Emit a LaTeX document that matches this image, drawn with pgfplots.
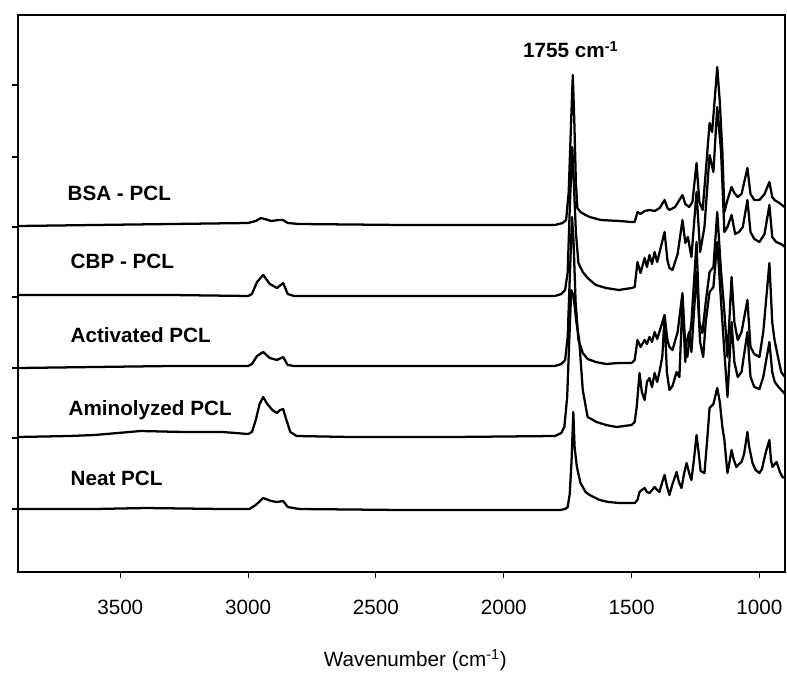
\documentclass[border=0pt]{standalone}
\usepackage{fontspec}
\setmainfont{Liberation Sans}
\usepackage{pgfplots}
\pgfplotsset{compat=1.18}
\tikzset{spec/.style={black, line width=1.7pt, line join=round, mark=none}}

\begin{document}
\begin{tikzpicture}
% frame of the whole picture (axis box sits at the origin)
\path[use as bounding box] (-13.5pt,-88.5pt) rectangle (576.75pt,429pt);
\begin{axis}[
    scale only axis,
    width=575.25pt, height=417.75pt,
    x dir=reverse,
    xmin=900, xmax=3900, ymin=0, ymax=557,
    xtick={1000,1500,2000,2500,3000,3500},
    ytick={63,134,204,275,345,415,487},
    yticklabels={},
    xtick pos=bottom, ytick pos=left,
    tick align=outside,
    major tick length=4.5pt,
    axis line style={line width=1pt},
    tick style={line width=0.8pt, black},
    /pgf/number format/assume math mode=true,
    /pgf/number format/set thousands separator={},
    tick label style={font=\fontsize{15.5}{18}\selectfont},
    xticklabel style={yshift=-13pt},
    xlabel={Wavenumber (cm\textsuperscript{-1})},
    xlabel style={font=\fontsize{15.5}{18}\selectfont, at={(axis description cs:0.518,0)}, anchor=center, yshift=-66pt},
]
% Neat PCL
\addplot[spec] coordinates {
(3900,63) (3600,63) (3400,64) (3100,63) (2995,63) (2970,67) (2941,74) (2910,71) (2887,70) (2863,71) (2845,65) (2800,63)
(2400,62) (2000,62) (1780,62) (1760,63) (1750,65) (1742,78) (1735,110) (1728,160) (1723,125) (1714,105) (1700,89)
(1680,80) (1664,77) (1625,72) (1590,70) (1547,69) (1500,69) (1488,69) (1477,72) (1469,80) (1460,82) (1449,84)
(1440,80) (1430,79) (1420,82) (1410,85) (1400,82) (1391,80) (1380,90) (1371,97) (1362,86) (1352,77) (1340,88)
(1324,100) (1315,90) (1305,84) (1295,98) (1285,109) (1275,99) (1266,92) (1255,115) (1246,137) (1238,120) (1230,101)
(1215,99) (1205,130) (1195,164) (1180,168) (1165,184) (1155,170) (1145,145) (1137,132) (1130,112) (1125,99)
(1117,110) (1109,122) (1100,112) (1090,105) (1080,108) (1070,110) (1060,118) (1047,140) (1040,125) (1027,109)
(1015,102) (1000,99) (990,103) (975,120) (961,132) (955,112) (949,105) (940,108) (933,110) (920,100) (910,95) (900,94)
};
% Aminolyzed PCL
\addplot[spec] coordinates {
(3900,135) (3700,136) (3600,137) (3420,141) (3250,140) (3100,140) (3000,138) (2985,140) (2970,152) (2955,168)
(2941,175) (2925,168) (2905,162) (2887,159) (2875,162) (2863,163) (2850,152) (2835,140) (2810,136) (2600,135)
(2200,135) (1800,136) (1775,139) (1763,145) (1752,175) (1744,230) (1736,282) (1727,276) (1716,250) (1705,232)
(1691,182) (1672,155) (1637,150) (1600,147) (1559,145) (1500,147) (1488,150) (1480,165) (1469,199) (1460,180)
(1449,172) (1440,190) (1430,194) (1420,185) (1410,199) (1400,190) (1391,200) (1380,215) (1371,255) (1362,200)
(1352,182) (1340,186) (1324,200) (1313,195) (1301,272) (1290,210) (1285,230) (1275,240) (1266,220) (1246,300)
(1232,230) (1220,215) (1210,250) (1195,280) (1180,285) (1165,330) (1150,270) (1137,220) (1125,175) (1109,250)
(1098,210) (1085,195) (1070,200) (1047,240) (1035,195) (1020,185) (1000,183) (985,195) (961,230) (950,200)
(940,190) (925,185) (900,178)
};
% Activated PCL
\addplot[spec] coordinates {
(3900,204) (3600,205) (3300,206) (3000,206) (2985,208) (2965,216) (2941,220) (2915,214) (2887,212) (2863,215)
(2845,207) (2820,206) (2400,206) (1800,206) (1775,208) (1760,212) (1750,235) (1741,300) (1733,355) (1727,330)
(1719,270) (1708,232) (1691,219) (1672,213) (1640,210) (1600,208) (1550,209) (1500,209) (1488,212) (1477,232)
(1465,225) (1449,232) (1440,228) (1430,235) (1420,230) (1410,240) (1400,233) (1371,257) (1360,232) (1352,225)
(1340,222) (1320,240) (1301,279) (1290,225) (1282,215) (1266,250) (1246,330) (1235,250) (1223,239) (1210,270)
(1195,300) (1180,305) (1165,360) (1150,300) (1137,260) (1125,215) (1109,295) (1098,250) (1085,232) (1070,240)
(1047,272) (1035,225) (1020,218) (1000,215) (985,240) (961,309) (950,250) (941,232) (925,212) (915,200) (900,195)
};
% CBP - PCL
\addplot[spec] coordinates {
(3900,277) (3600,277) (3300,277) (3000,276) (2985,278) (2965,290) (2941,297) (2915,288) (2887,284) (2863,289)
(2845,278) (2820,276) (2400,276) (1800,276) (1775,278) (1760,282) (1750,300) (1741,370) (1732,425) (1726,390)
(1718,340) (1708,309) (1691,300) (1672,294) (1640,287) (1600,284) (1550,282) (1500,284) (1488,285) (1477,310)
(1465,299) (1449,314) (1440,305) (1430,317) (1420,308) (1410,320) (1400,310) (1371,340) (1360,312) (1352,304)
(1340,302) (1320,318) (1301,352) (1290,329) (1280,335) (1266,315) (1246,380) (1232,320) (1215,345) (1195,417)
(1180,400) (1165,465) (1150,420) (1137,340) (1125,345) (1109,357) (1095,338) (1080,340) (1065,345) (1047,372)
(1035,340) (1020,333) (1000,330) (980,338) (961,367) (950,335) (935,330) (915,328) (900,325)
};
% BSA - PCL
\addplot[spec] coordinates {
(3900,346) (3600,347) (3300,348) (3000,349) (2970,351) (2950,354) (2935,353) (2910,351) (2880,352) (2863,352)
(2845,349) (2800,348) (2400,347) (1800,347) (1770,349) (1756,352) (1746,380) (1738,440) (1730,497) (1724,450)
(1718,390) (1712,364) (1700,360) (1680,357) (1664,355) (1620,352) (1547,351) (1500,350) (1488,350) (1477,360)
(1465,358) (1449,361) (1430,362) (1410,361) (1390,364) (1371,372) (1360,364) (1352,362) (1330,365) (1301,377)
(1290,368) (1275,365) (1262,370) (1246,409) (1235,370) (1222,362) (1210,400) (1195,449) (1185,440) (1165,505)
(1155,470) (1145,420) (1137,360) (1125,372) (1109,385) (1098,379) (1085,375) (1070,378) (1047,404) (1035,378)
(1020,372) (1000,372) (980,378) (961,390) (950,375) (941,372) (922,369) (902,365)
};
\begin{scope}[every node/.style={font=\fontsize{15.5}{18}\selectfont\bfseries, inner sep=0pt}]
\node[anchor=base west] at (axis cs:3707,372) {BSA - PCL};
\node[anchor=base west] at (axis cs:3695,304) {CBP - PCL};
\node[anchor=base west] at (axis cs:3695,230) {Activated PCL};
\node[anchor=base west] at (axis cs:3703,157) {Aminolyzed PCL};
\node[anchor=base west] at (axis cs:3695,87) {Neat PCL};
\node[anchor=base] at (axis cs:1738,514) {1755 cm\textsuperscript{-1}};
\end{scope}
\end{axis}
\end{tikzpicture}
\end{document}
